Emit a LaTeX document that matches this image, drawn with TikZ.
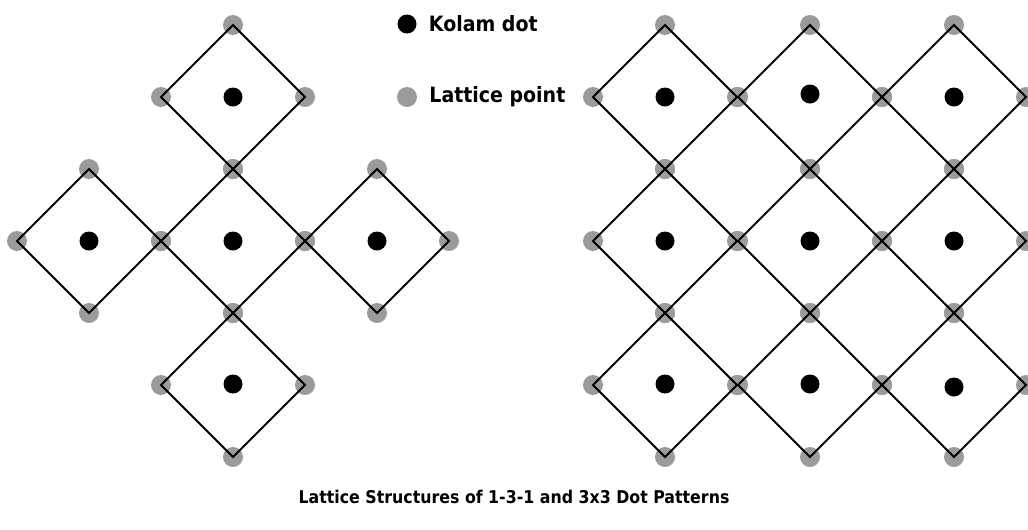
\documentclass[tikz,border=0pt]{standalone}
\usepackage{fontspec}
\setmainfont{DejaVu Sans}
\newfontfamily\condensedfont{DejaVu Sans Condensed}
\usepackage{tikz}
\usetikzlibrary{positioning}
\definecolor{latticegray}{RGB}{155,155,155}

\begin{document}
\begin{tikzpicture}[x=0.02cm, y=-0.02cm,
    lattice/.style={circle, fill=latticegray, inner sep=0pt, minimum size=0.4cm},
    kolam/.style={circle, fill=black, inner sep=0pt, minimum size=0.38cm},
    edge/.style={line width=0.04cm, line join=miter},
    label/.style={font=\condensedfont\bfseries\fontsize{12}{14}\selectfont, inner sep=1pt}]
    \useasboundingbox (0,0) rectangle (1028,529);
    % Lattice points of 1-3-1
    \foreach \n/\cx/\cy in {1/233/97,2/89/241,3/233/241,4/377/241,5/233/385} {
        \node[lattice] (A\n-t) at ({\cx},{\cy-72}) {};
        \node[lattice] (A\n-r) at ({\cx+72},{\cy}) {};
        \node[lattice] (A\n-b) at ({\cx},{\cy+72}) {};
        \node[lattice] (A\n-l) at ({\cx-72},{\cy}) {};
    }
    % Lattice points of 3x3
    \foreach \n/\cx/\cy in {1/665/97,2/810/97,3/954/97,4/665/241,5/810/241,6/954/241,7/665/385,8/810/385,9/954/385} {
        \node[lattice] (B\n-t) at ({\cx},{\cy-72}) {};
        \node[lattice] (B\n-r) at ({\cx+72},{\cy}) {};
        \node[lattice] (B\n-b) at ({\cx},{\cy+72}) {};
        \node[lattice] (B\n-l) at ({\cx-72},{\cy}) {};
    }
    % Diamonds
    \foreach \n in {1,...,5} {
        \draw[edge] (A\n-t.center) -- (A\n-r.center) -- (A\n-b.center) -- (A\n-l.center) -- cycle;
    }
    \foreach \n in {1,...,9} {
        \draw[edge] (B\n-t.center) -- (B\n-r.center) -- (B\n-b.center) -- (B\n-l.center) -- cycle;
    }
    % Kolam dots
    \foreach \n/\cx/\cy in {1/233/97,2/89/241,3/233/241,4/377/241,5/233/384} {
        \node[kolam] (KA-\n) at ({\cx},{\cy}) {};
    }
    \foreach \n/\cx/\cy in {1/665/97,2/810/94,3/954/97,4/665/241,5/810/241,6/954/241,7/665/384,8/810/384,9/954/387} {
        \node[kolam] (KB-\n) at ({\cx},{\cy}) {};
    }
    % Legend
    \node[kolam] (key-k) at (407,24) {};
    \node[label, right=0.2cm of key-k] {Kolam dot};
    \node[lattice] (key-l) at (407,97) {};
    \node[label, right=0.2cm of key-l] {Lattice point};
    % Title
    \node[label, font=\condensedfont\bfseries\fontsize{10}{12}\selectfont] (title) at (514,497) {Lattice Structures of 1-3-1 and 3x3 Dot Patterns};
\end{tikzpicture}
\end{document}
